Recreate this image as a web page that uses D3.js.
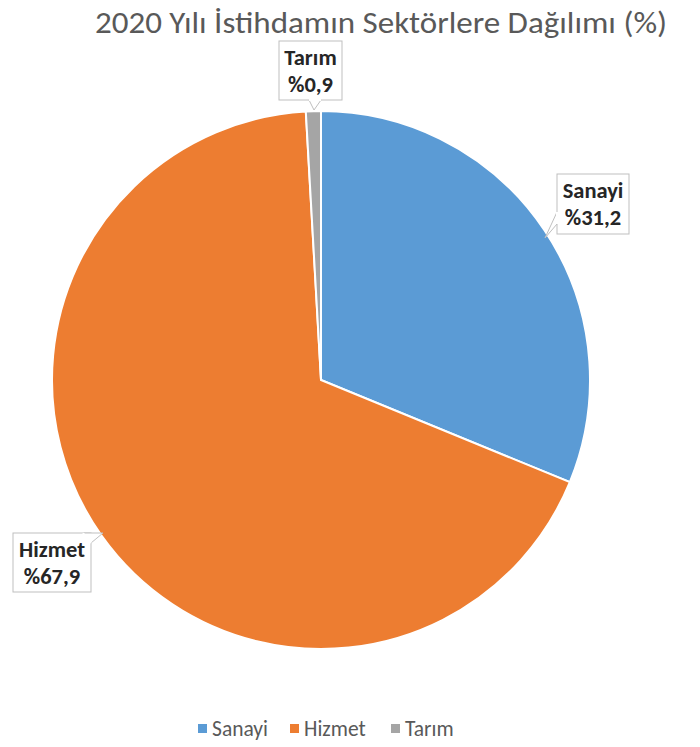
<!DOCTYPE html>
<html><head><meta charset="utf-8">
<script src="https://cdn.jsdelivr.net/npm/d3@7"></script>
<style>body{margin:0;background:#fff;} svg{display:block;}</style>
</head><body>
<svg id="c" width="700" height="747"></svg>
<script>
const categories = ["Sanayi", "Hizmet", "Tarım"];
const values = [31.2, 67.9, 0.9];
const labelTexts = ["%31,2", "%67,9", "%0,9"];
const colors = ["#5B9BD5", "#ED7D31", "#A5A5A5"];
const title = "2020 Yılı İstihdamın Sektörlere Dağılımı (%)";

const svg = d3.select("#c");
const font = "Calibri, Carlito, Lato, 'Open Sans', sans-serif";

svg.append("text").attr("x", 381).attr("y", 33).attr("text-anchor", "middle")
  .attr("font-family", font).attr("font-size", 30).attr("fill", "#595959")
  .attr("textLength", 572).attr("lengthAdjust", "spacingAndGlyphs").text(title);

const cx = 321, cy = 380, r = 269;
const pie = d3.pie().sort(null).value(d => d)(values);
const arc = d3.arc().innerRadius(0).outerRadius(r);
const g = svg.append("g").attr("transform", `translate(${cx},${cy})`);
g.selectAll("path").data(pie).join("path")
  .attr("d", arc).attr("fill", (d, i) => colors[i])
  .attr("stroke", "#fff").attr("stroke-width", 2);

const callouts = [
  {i: 0, box: [557, 174, 629, 234], tail: [[557, 212], [557, 224], [545, 238]]},
  {i: 1, box: [13, 533, 91, 592], tail: [[83, 533], [91, 543], [103, 533]]},
  {i: 2, box: [279, 41, 342, 100], tail: [[309, 100], [321, 100], [314, 110]]}
];
callouts.forEach(c => {
  const [x0, y0, x1, y1] = c.box;
  svg.append("rect").attr("x", x0).attr("y", y0).attr("width", x1 - x0).attr("height", y1 - y0)
    .attr("fill", "#fff").attr("stroke", "#BFBFBF").attr("stroke-width", 1);
  const t = c.tail;
  svg.append("path").attr("d", `M${t[0][0]},${t[0][1]}L${t[2][0]},${t[2][1]}L${t[1][0]},${t[1][1]}`)
    .attr("fill", "#fff").attr("stroke", "#BFBFBF").attr("stroke-width", 1);
  svg.append("path").attr("d", `M${t[0][0]},${t[0][1]}L${t[1][0]},${t[1][1]}`)
    .attr("stroke", "#fff").attr("stroke-width", 2);
  const mx = (x0 + x1) / 2;
  const tx = svg.append("text").attr("text-anchor", "middle").attr("font-family", font)
    .attr("font-size", 22.5).attr("font-weight", "bold").attr("fill", "#262626");
  tx.append("tspan").attr("x", mx).attr("y", y0 + 24).text(categories[c.i]);
  tx.append("tspan").attr("x", mx).attr("y", y0 + 51).text(labelTexts[c.i]);
});

const legX = [198, 290, 391];
const leg = svg.append("g");
categories.forEach((c, i) => {
  leg.append("rect").attr("x", legX[i]).attr("y", 724).attr("width", 9).attr("height", 9).attr("fill", colors[i]);
  leg.append("text").attr("x", legX[i] + 14).attr("y", 736).attr("font-family", font)
    .attr("font-size", 21.5).attr("fill", "#595959").text(c);
});
</script>
</body></html>
